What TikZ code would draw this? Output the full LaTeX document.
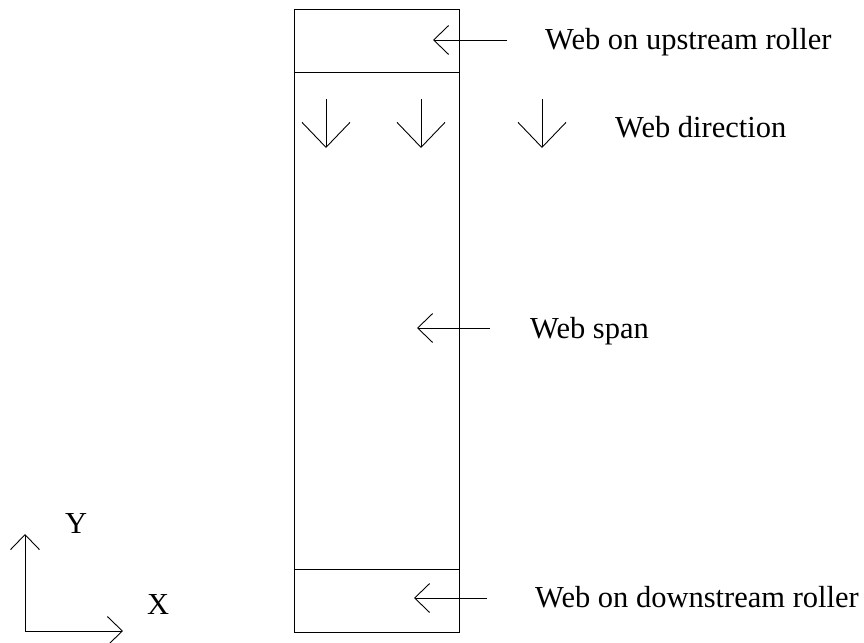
\documentclass[tikz,border=0pt]{standalone}
\usepackage{fontspec}
\setmainfont{Liberation Serif}
\usetikzlibrary{arrows.meta}
\tikzset{
  thin line/.style={line width=0.9pt},
  small barb/.style={thin line, -{Straight Barb[length=15pt,width=29pt,line width=0.9pt]}},
  big barb/.style={thin line, -{Straight Barb[length=25pt,width=48pt,line width=0.9pt]}},
  label text/.style={anchor=base west, inner sep=0pt, font=\fontsize{30.5pt}{36pt}\selectfont}
}
\begin{document}
\begin{tikzpicture}[x=1pt,y=-1pt]
\useasboundingbox (0,0) rectangle (864,642);

% web strip with the two roller zones
\draw[thin line] (294,9) rectangle (459,632);
\draw[thin line] (294,72) -- (459,72);
\draw[thin line] (294,569) -- (459,569);

% labels
\node[label text] (up) at (545,50) {Web on upstream roller};
\node[label text] (dir) at (615,137) {Web direction};
\node[label text] (span) at (530,338) {Web span};
\node[label text] (down) at (535,607) {Web on downstream roller};
\node[label text] (ylab) at (65,533) {Y};
\node[label text] (xlab) at (147,614) {X};

% pointer ends
\coordinate (upA) at (507,40);   \coordinate (upB) at (433,40);
\coordinate (spA) at (490,328);  \coordinate (spB) at (417,328);
\coordinate (dnA) at (487,598);  \coordinate (dnB) at (414,598);
\draw[small barb] (upA) -- (upB);
\draw[small barb] (spA) -- (spB);
\draw[small barb] (dnA) -- (dnB);

% web direction arrows
\foreach \x [count=\i] in {326,421,542}{
  \coordinate (d\i a) at (\x,99);
  \coordinate (d\i b) at (\x,148);
  \draw[big barb] (d\i a) -- (d\i b);
}

% coordinate axes
\coordinate (origin) at (25,631);
\coordinate (yend) at (25,534);
\coordinate (xend) at (123,631);
\draw[small barb] (origin) -- (yend);
\draw[small barb] (origin) -- (xend);
\end{tikzpicture}
\end{document}
